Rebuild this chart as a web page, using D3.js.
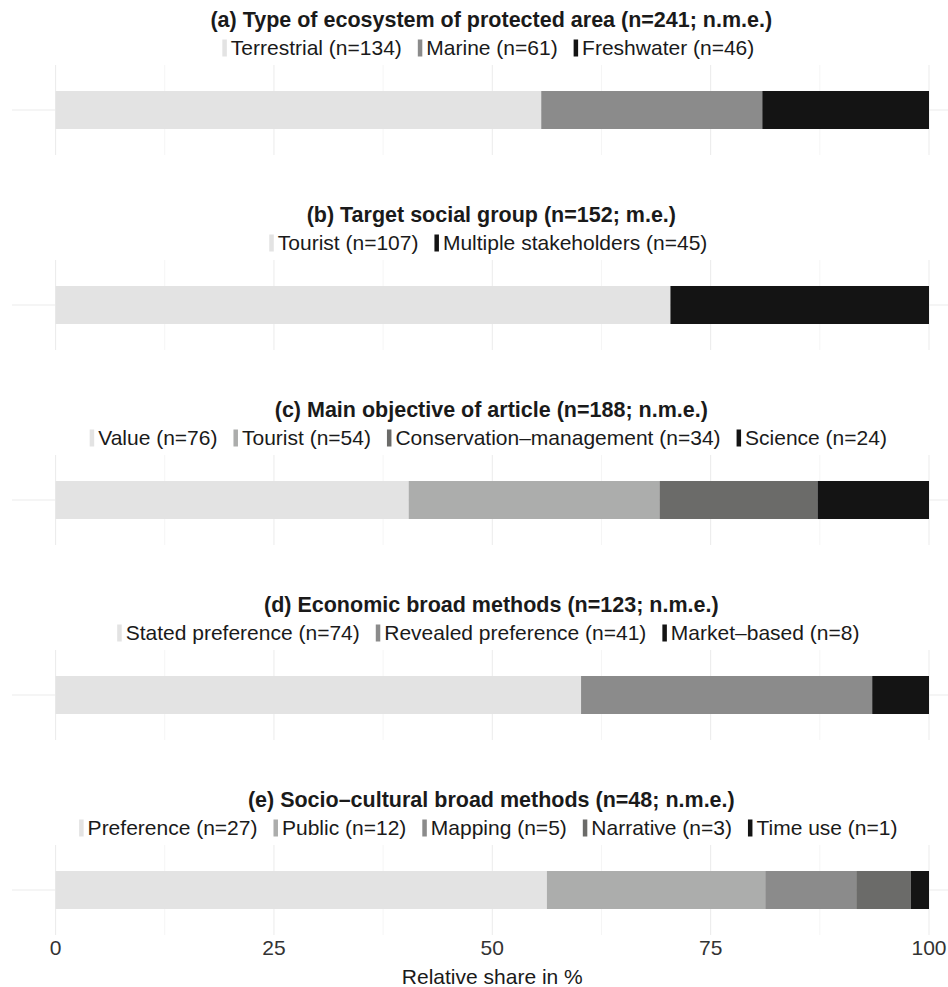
<!DOCTYPE html>
<html>
<head>
<meta charset="utf-8">
<script src="https://cdn.jsdelivr.net/npm/d3@7/dist/d3.min.js"></script>
<style>
  body { margin: 0; background: #fff; }
  text { font-family: "Liberation Sans", Arial, Helvetica, sans-serif; }
</style>
</head>
<body>
<svg id="chart" width="948" height="987"></svg>
<script>
// panel titles
let titles = [
    "(a) Type of ecosystem of protected area (n=241; n.m.e.)",
    "(b) Target social group (n=152; m.e.)",
    "(c) Main objective of article (n=188; n.m.e.)",
    "(d) Economic broad methods (n=123; n.m.e.)",
    "(e) Socio\u2013cultural broad methods (n=48; n.m.e.)"
]
// categories per panel
let categories = [
    ["Terrestrial", "Marine", "Freshwater"],
    ["Tourist", "Multiple stakeholders"],
    ["Value", "Tourist", "Conservation\u2013management", "Science"],
    ["Stated preference", "Revealed preference", "Market\u2013based"],
    ["Preference", "Public", "Mapping", "Narrative", "Time use"]
]
let counts = [
    [134, 61, 46],
    [107, 45],
    [76, 54, 34, 24],
    [74, 41, 8],
    [27, 12, 5, 3, 1]
]
// fills per category
let fills = [
    ["#e3e3e3", "#8b8b8b", "#141414"],
    ["#e3e3e3", "#141414"],
    ["#e3e3e3", "#acadac", "#6b6b69", "#141414"],
    ["#e3e3e3", "#8b8b8b", "#141414"],
    ["#e3e3e3", "#acadac", "#8b8b8b", "#6b6b69", "#141414"]
]
let ticks = [0, 25, 50, 75, 100]
let minorTicks = [12.5, 37.5, 62.5, 87.5]
let xLabel = "Relative share in %"

let svg = d3.select("#chart")
let x = d3.scaleLinear().domain([0, 100]).range([55.6, 929])
let panelY = d3.scaleLinear().domain([0, 4]).range([0, 780])
// inside a panel: grid area and the bar band
let y = d3.scaleBand().domain(["all"]).range([65, 155]).paddingInner(0).paddingOuter(0.684)
let midX = (x.range()[0] + x.range()[1]) / 2

titles.forEach((title, i) => {
    let g = svg.append("g").attr("transform", `translate(0,${panelY(i)})`)
    let total = d3.sum(counts[i])
    let row = {}
    categories[i].forEach((c, j) => row[c] = counts[i][j] / total * 100)
    let series = d3.stack().keys(categories[i])([row])

    // gridlines
    g.selectAll(".minor").data(minorTicks).enter().append("line")
        .attr("x1", d => x(d)).attr("x2", d => x(d))
        .attr("y1", y.range()[0]).attr("y2", y.range()[1])
        .attr("stroke", "#f2f2f2").attr("stroke-width", 0.8)
    g.selectAll(".major").data(ticks).enter().append("line")
        .attr("x1", d => x(d)).attr("x2", d => x(d))
        .attr("y1", y.range()[0]).attr("y2", y.range()[1])
        .attr("stroke", "#ebebeb").attr("stroke-width", 1)
    g.append("line")
        .attr("x1", 12).attr("x2", 948)
        .attr("y1", y("all") + y.bandwidth() / 2).attr("y2", y("all") + y.bandwidth() / 2)
        .attr("stroke", "#ebebeb").attr("stroke-width", 1)

    // bars
    g.selectAll(".seg").data(series).enter().append("rect")
        .attr("x", d => x(d[0][0]))
        .attr("width", d => x(d[0][1]) - x(d[0][0]))
        .attr("y", y("all"))
        .attr("height", y.bandwidth())
        .attr("fill", (d, j) => fills[i][j])

    // title
    g.append("text")
        .attr("x", midX - 1).attr("y", 26.5)
        .attr("text-anchor", "middle")
        .attr("font-size", 21.5).attr("font-weight", "bold")
        .attr("fill", "#1a1a1a")
        .text(title)

    // legend, laid out by measuring text
    let leg = g.append("g")
    let cx = 0
    categories[i].forEach((c, j) => {
        leg.append("rect").attr("x", cx).attr("y", 39.5).attr("width", 4.5).attr("height", 17)
            .attr("fill", fills[i][j])
        let t = leg.append("text").attr("x", cx + 8.5).attr("y", 55)
            .attr("font-size", 21).attr("fill", "#1a1a1a")
            .text(`${c} (n=${counts[i][j]})`)
        cx += 8.5 + t.node().getComputedTextLength() + 16
    })
    cx -= 16
    leg.attr("transform", `translate(${midX - 4 - cx / 2},0)`)
})

// x axis labels
svg.selectAll(".tick").data(ticks).enter().append("text")
    .attr("x", d => x(d)).attr("y", 955)
    .attr("text-anchor", "middle")
    .attr("font-size", 21).attr("fill", "#333333")
    .text(d => d)
svg.append("text")
    .attr("x", midX).attr("y", 984)
    .attr("text-anchor", "middle")
    .attr("font-size", 21).attr("fill", "#1a1a1a")
    .text(xLabel)
</script>
</body>
</html>
